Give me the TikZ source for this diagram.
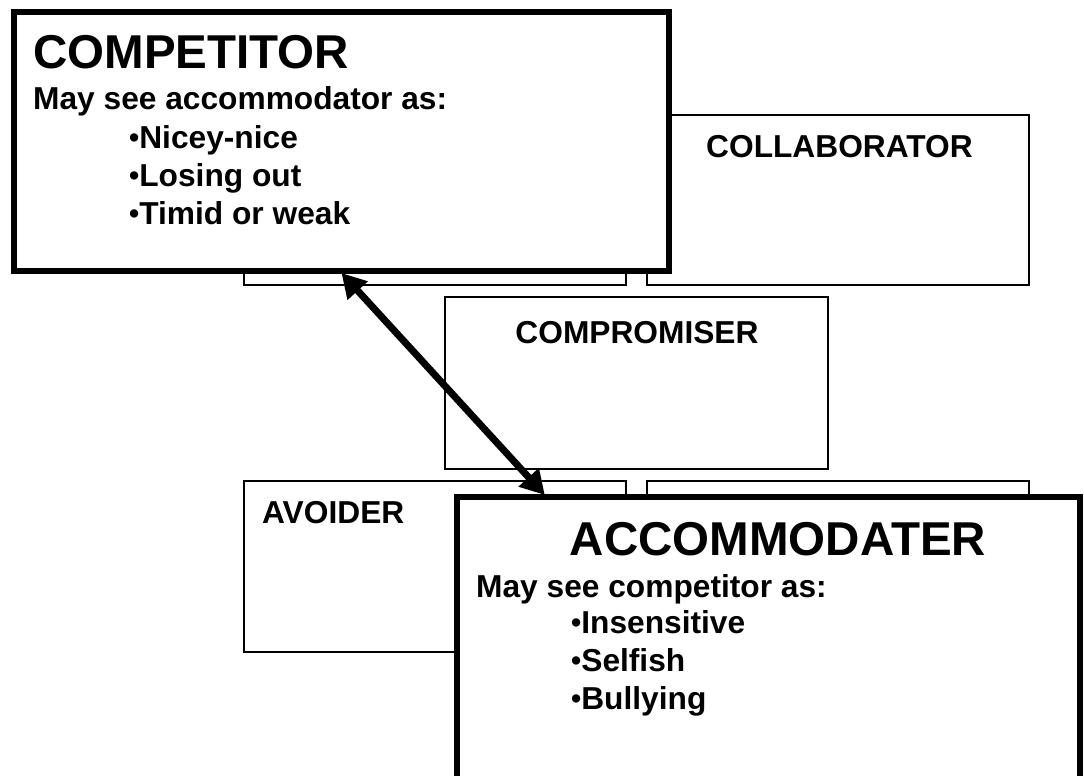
\documentclass[tikz,border=0pt]{standalone}
\usepackage{fontspec}
\setmainfont{Liberation Sans}
\usetikzlibrary{arrows.meta,calc}
\newcommand{\smallbul}{\raisebox{0.8pt}{\fontsize{29pt}{29pt}\selectfont •}}
\begin{document}
\begin{tikzpicture}[x=1pt,y=-1pt,
  thinbox/.style={draw, line width=1.3pt, fill=white, inner sep=0pt, outer sep=0pt, anchor=north west},
  thickbox/.style={draw, line width=6pt, fill=white, inner sep=0pt, outer sep=0pt, anchor=north west},
  title/.style={inner sep=0pt, anchor=base west, font=\bfseries\fontsize{47.5pt}{50pt}\selectfont},
  label/.style={inner sep=0pt, anchor=base west, font=\bfseries\fontsize{31.7pt}{34pt}\selectfont},
  dblarrow/.style={line width=7pt, {Triangle[length=24pt,width=26pt]}-{Triangle[length=24pt,width=26pt]}}
]
\useasboundingbox (0,0) rectangle (1084,776);
\clip (0,0) rectangle (1084,776);
% background boxes
\node[thinbox, minimum width=382pt, minimum height=170pt] (tlbox) at (244,115) {};
\node[thinbox, minimum width=382pt, minimum height=170pt] (collab) at (647,115) {};
\node[thinbox, minimum width=383pt, minimum height=172pt] (compro) at (445,297) {};
\node[thinbox, minimum width=382pt, minimum height=171pt] (avoid) at (244,481) {};
\node[thinbox, minimum width=382pt, minimum height=171pt] (brbox) at (647,481) {};
\node[label] (tcollab) at (706,157) {COLLABORATOR};
\node[label, anchor=base] (tcompro) at (637,343) {COMPROMISER};
\node[label] (tavoid) at (262,523) {AVOIDER};
% competitor
\node[thickbox, minimum width=655pt, minimum height=259pt] (comp) at (14,12) {};
\node[title] (tcomp) at (33,68) {COMPETITOR};
\node[label] (tcomp1) at (33,110) {May see accommodator as:};
\node[label] (tcomp2) at (129,148) {\smallbul Nicey-nice};
\node[label] (tcomp3) at (129,186) {\smallbul Losing out};
\node[label] (tcomp4) at (129,224) {\smallbul Timid or weak};
% accommodater
\node[thickbox, minimum width=623pt, minimum height=320pt] (acc) at (457,497) {};
\node[title, anchor=base] (tacc) at (778,555) {ACCOMMODATER};
\node[label] (tacc1) at (476,597) {May see competitor as:};
\node[label] (tacc2) at (571,633) {\smallbul Insensitive};
\node[label] (tacc3) at (571,671) {\smallbul Selfish};
\node[label] (tacc4) at (571,709) {\smallbul Bullying};
% arrow
\coordinate (atop) at ($(comp.south)+(0,2)$);
\coordinate (abot) at ($(acc.north west)!0.141!(acc.north east)+(0,-2)$);
\draw[dblarrow] (atop) -- (abot);
\end{tikzpicture}
\end{document}
